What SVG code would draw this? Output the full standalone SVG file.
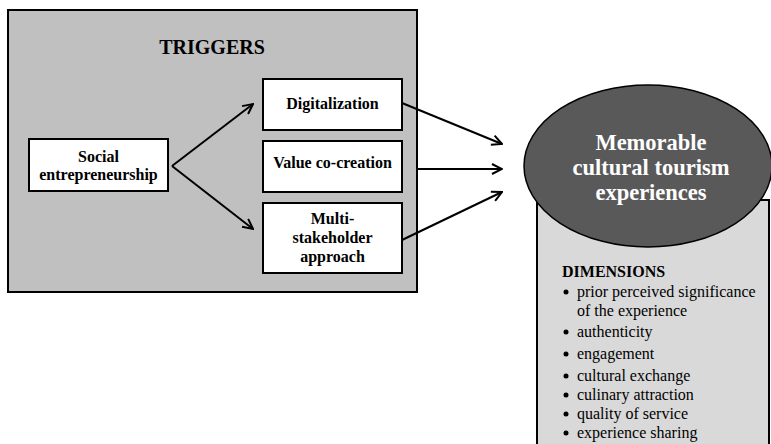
<svg xmlns="http://www.w3.org/2000/svg" width="771" height="444" viewBox="0 0 771 444">
<style>
.box{fill:#fff;stroke:#000;stroke-width:2}
.t{font-family:"Liberation Serif","Times New Roman",serif;font-weight:bold;font-size:16px;text-anchor:middle;fill:#000}
.w{font-family:"Liberation Serif","Times New Roman",serif;font-weight:bold;font-size:22.5px;text-anchor:middle;fill:#fff}
.d{font-family:"Liberation Serif","Times New Roman",serif;font-size:16px;fill:#000}
.c{stroke:#000;stroke-width:2;fill:none}
</style>
<defs>
<marker id="ah" viewBox="0 0 12 12" refX="11" refY="6" markerWidth="12" markerHeight="12" markerUnits="userSpaceOnUse" orient="auto">
<path d="M1,1 L11,6 L1,11" fill="none" stroke="#000" stroke-width="2"/>
</marker>
</defs>
<g id="triggers">
<rect x="8" y="10" width="409" height="282" fill="#c0c0c0" stroke="#000" stroke-width="2"/>
<text class="t" x="212" y="54" style="font-size:20px">TRIGGERS</text>
</g>
<g id="social">
<rect class="box" x="29" y="139" width="139" height="52"/>
<text class="t" x="98.5" y="162">Social</text>
<text class="t" x="98.5" y="180">entrepreneurship</text>
</g>
<g id="digitalization">
<rect class="box" x="263" y="79" width="139" height="51"/>
<text class="t" x="332.5" y="109">Digitalization</text>
</g>
<g id="value">
<rect class="box" x="263" y="141" width="139" height="51"/>
<text class="t" x="332.5" y="168">Value co-creation</text>
</g>
<g id="multi">
<rect class="box" x="263" y="203" width="139" height="70"/>
<text class="t" x="332.5" y="224">Multi-</text>
<text class="t" x="332.5" y="243">stakeholder</text>
<text class="t" x="332.5" y="262">approach</text>
</g>
<g id="experiences">
<rect x="537" y="200" width="232" height="250" fill="#d9d9d9" stroke="#000" stroke-width="2"/>
<ellipse cx="648" cy="166" rx="124" ry="81" fill="#595959" stroke="#000" stroke-width="1.5"/>
<text class="w" x="651" y="150">Memorable</text>
<text class="w" x="651" y="175">cultural tourism</text>
<text class="w" x="651" y="200">experiences</text>
<text class="d" x="562" y="277" style="font-weight:bold">DIMENSIONS</text>
<g fill="#000">
<circle cx="566" cy="292" r="2.5"/>
<circle cx="566" cy="332" r="2.5"/>
<circle cx="566" cy="354" r="2.5"/>
<circle cx="566" cy="376" r="2.5"/>
<circle cx="566" cy="395" r="2.5"/>
<circle cx="566" cy="414" r="2.5"/>
<circle cx="566" cy="433" r="2.5"/>
</g>
<text class="d" x="577" y="297">prior perceived significance</text>
<text class="d" x="577" y="316">of the experience</text>
<text class="d" x="577" y="337">authenticity</text>
<text class="d" x="577" y="359">engagement</text>
<text class="d" x="577" y="381">cultural exchange</text>
<text class="d" x="577" y="400">culinary attraction</text>
<text class="d" x="577" y="419">quality of service</text>
<text class="d" x="577" y="438">experience sharing</text>
</g>
<g id="connectors">
<line class="c" x1="172" y1="166" x2="253" y2="104" marker-end="url(#ah)"/>
<line class="c" x1="172" y1="166" x2="253" y2="229" marker-end="url(#ah)"/>
<line class="c" x1="402" y1="103" x2="502" y2="144" marker-end="url(#ah)"/>
<line class="c" x1="417" y1="169" x2="502" y2="169" marker-end="url(#ah)"/>
<line class="c" x1="402" y1="240" x2="502" y2="192" marker-end="url(#ah)"/>
</g>
</svg>
